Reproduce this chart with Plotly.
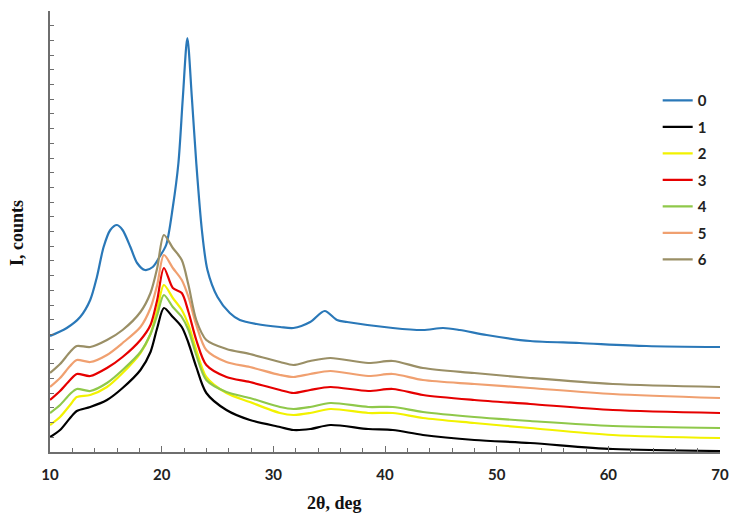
import plotly.graph_objects as go

# 2theta grid for the modified samples (1-6)
two_theta = [10, 10.9, 11.8, 12.4, 13.6, 15.1, 16.5, 18.1, 19.0, 19.6, 20.2, 21.0,
             21.8, 22.4, 23.1, 24.0, 25.8, 27.9, 30.6, 31.8, 33.3, 35.1, 38.5, 40.7,
             43.4, 48, 53, 60.4, 70]

# 2theta grid for the initial sample (0)
two_theta_0 = [10, 11.5, 12.7, 13.6, 14.2, 14.8, 15.4, 16.0, 16.5, 17.2, 17.8, 18.5,
               19.2, 19.8, 20.4, 21.0, 21.5, 21.9, 22.3, 22.7, 23.1, 23.6, 24.1, 25.0,
               26.1, 27.0, 28.5, 30.6, 31.8, 33.3, 34.6, 35.7, 36.6, 40.7, 43.4, 45.2,
               46.7, 49.1, 53, 57.4, 63.4, 70]

# intensities, arbitrary units
s0 = [116, 124, 135, 152, 175, 205, 222, 227, 222, 205, 189, 182,
      185, 195, 207, 245, 289, 355, 414, 355, 289, 222, 182, 155,
      139, 132, 128, 125, 124, 130, 141, 132, 130, 124, 122, 124,
      122, 117, 111, 109, 106, 105]
s1 = [15, 22, 34, 41, 45, 52, 64, 82, 100, 124, 144, 135,
      125, 109, 85, 59, 42, 32, 25, 22, 23, 27, 23, 22,
      17, 12, 9, 3, 1]
s2 = [27, 35, 47, 55, 57, 65, 79, 99, 118, 142, 167, 154,
      142, 127, 102, 75, 59, 50, 39, 37, 39, 43, 39, 39,
      34, 29, 24, 17, 14]
s3 = [52, 61, 72, 78, 76, 84, 95, 112, 127, 152, 184, 164,
      159, 140, 112, 87, 75, 70, 62, 59, 62, 65, 61, 63,
      57, 52, 48, 42, 39]
s4 = [39, 47, 58, 63, 61, 69, 82, 100, 118, 137, 157, 145,
      135, 122, 97, 72, 60, 54, 45, 43, 45, 49, 45, 45,
      40, 35, 31, 26, 24]
s5 = [65, 74, 86, 92, 90, 97, 109, 125, 144, 167, 197, 184,
      172, 155, 127, 102, 90, 85, 77, 75, 78, 81, 76, 78,
      72, 68, 64, 58, 54]
s6 = [79, 88, 100, 106, 105, 112, 122, 140, 159, 184, 217, 204,
      192, 167, 132, 112, 103, 98, 90, 87, 91, 94, 89, 91,
      84, 79, 74, 68, 65]

names = ["0", "1", "2", "3", "4", "5", "6"]
colors = ["#2a78b8", "#000000", "#f2f200", "#e60000", "#8fc84a", "#f0a070", "#9a8f66"]
series = [(two_theta_0, s0), (two_theta, s1), (two_theta, s2), (two_theta, s3),
          (two_theta, s4), (two_theta, s5), (two_theta, s6)]

fig = go.Figure()
for name, color, (xs, ys) in zip(names, colors, series):
    fig.add_trace(go.Scatter(
        x=xs, y=ys, name=name, mode="lines", legendgroup=name,
        line=dict(color=color, width=2.2, shape="spline", smoothing=0.8),
    ))

axis_col = "#6e6e6e"
title_font = dict(family="Liberation Serif", size=18, color="#111111", weight="bold")
# the page body has an 8px default margin, so the figure is 8px smaller
fig.update_layout(
    width=729, height=514,
    margin=dict(l=42, r=17, t=3, b=70),
    paper_bgcolor="white", plot_bgcolor="white",
    showlegend=True,
    legend=dict(
        x=0.907, y=0.834, xanchor="left", yanchor="top",
        font=dict(family="Lato", size=15, color="#222222", weight="bold"),
        tracegroupgap=4, itemwidth=30, bgcolor="rgba(0,0,0,0)",
    ),
    xaxis=dict(
        range=[10, 70], dtick=10, tick0=10, automargin=False,
        showline=True, linecolor=axis_col, linewidth=1.5,
        ticks="inside", ticklen=6, tickcolor=axis_col,
        minor=dict(dtick=2, ticks="inside", ticklen=4, tickcolor=axis_col),
        showgrid=False, zeroline=False,
        tickfont=dict(family="Lato", size=15, color="#222222", weight="bold"),
        ticklabelstandoff=8,
    ),
    yaxis=dict(
        range=[0, 441], dtick=14.7, tick0=0, automargin=False,
        showline=True, linecolor=axis_col, linewidth=1.5,
        ticks="inside", ticklen=4, tickcolor=axis_col,
        showticklabels=False, showgrid=False, zeroline=False,
    ),
    annotations=[
        dict(text="2θ, deg", xref="paper", yref="paper", x=0.424, y=-0.1156,
             xanchor="center", yanchor="middle", showarrow=False, font=title_font),
        dict(text="I, counts", xref="paper", yref="paper", x=-0.049, y=0.497,
             xanchor="center", yanchor="middle", showarrow=False, textangle=-90,
             font=title_font),
    ],
)

fig.write_html("out.html")
